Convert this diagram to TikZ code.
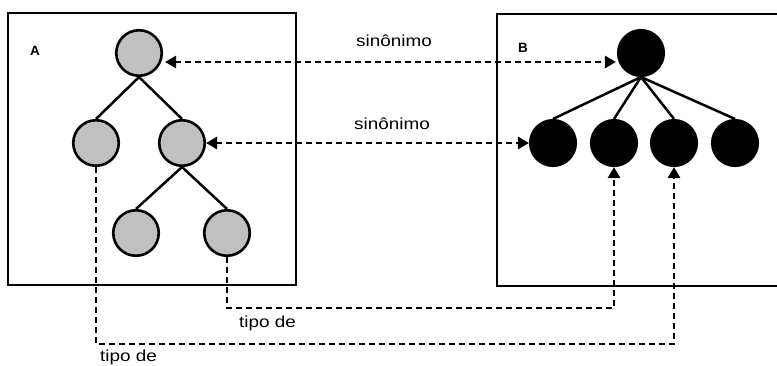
\documentclass[tikz,border=0pt]{standalone}
\usepackage{fontspec}
\setmainfont{Liberation Sans}
\newfontfamily\widefont{Liberation Sans}[FakeStretch=1.18]
\usetikzlibrary{arrows.meta}
\begin{document}
\begin{tikzpicture}[x=1pt,y=-1pt,
  frame/.style={draw=black,line width=2.6pt},
  graynode/.style={circle,draw=black,fill={rgb,255:red,192;green,192;blue,192},line width=2.6pt,minimum size=45.5pt,inner sep=0pt},
  blacknode/.style={circle,draw=black,fill=black,line width=2.6pt,minimum size=45.5pt,inner sep=0pt},
  edge/.style={draw=black,line width=2.5pt},
  link/.style={draw=black,line width=2.9pt,dash pattern=on 6pt off 4pt},
  head/.style={-{Triangle[length=11pt,width=12pt]}},
  bothheads/.style={{Triangle[length=11pt,width=12pt]}-{Triangle[length=11pt,width=12pt]}},
  lbl/.style={font=\widefont\fontsize{16}{18}\selectfont,inner sep=0pt},
  setname/.style={font=\bfseries\fontsize{13.5}{15}\selectfont,inner sep=0pt}]
\useasboundingbox (0,0) rectangle (777,365);

% the two frames
\draw[frame] (8,13) rectangle (296,285);
\draw[frame] (497,14) rectangle (790,286);
\node[setname] (la) at (35,51) {A};
\node[setname] (lb) at (523,48) {B};

% tree A
\node[graynode] (a1) at (139,53) {};
\node[graynode] (a2) at (96,143) {};
\node[graynode] (a3) at (182,143) {};
\node[graynode] (a4) at (136,233) {};
\node[graynode] (a5) at (227,233) {};
\draw[edge] (a1.south) -- (a2.north);
\draw[edge] (a1.south) -- (a3.north);
\draw[edge] (a3.south) -- (a4.north);
\draw[edge] (a3.south) -- (a5.north);

% tree B
\node[blacknode] (b1) at (641,53) {};
\node[blacknode] (b2) at (553,143) {};
\node[blacknode] (b3) at (614,143) {};
\node[blacknode] (b4) at (674,143) {};
\node[blacknode] (b5) at (735,143) {};
\foreach \c in {b2,b3,b4,b5} \draw[edge] (b1.south) -- (\c.north);

% synonym links
\draw[link,bothheads] ([yshift=-9pt,xshift=2pt]a1.east) -- ([yshift=-9pt,xshift=-1pt]b1.west);
\draw[link,bothheads] (a3.east) -- (b2.west);
\node[lbl,anchor=base] (s1) at (394,46) {sinônimo};
\node[lbl,anchor=base] (s2) at (392,129) {sinônimo};

% type-of links
\coordinate (upper) at (0,308);
\coordinate (lower) at (0,344);
\draw[link,head] (a5.south) -- (a5.south |- upper) -| (b3.south);
\draw[link,head] (a2.south) -- (a2.south |- lower) -| (b4.south);
\node[lbl,anchor=base west] (t1) at (239,327) {tipo de};
\node[lbl,anchor=base west] (t2) at (100,361) {tipo de};
\end{tikzpicture}
\end{document}
